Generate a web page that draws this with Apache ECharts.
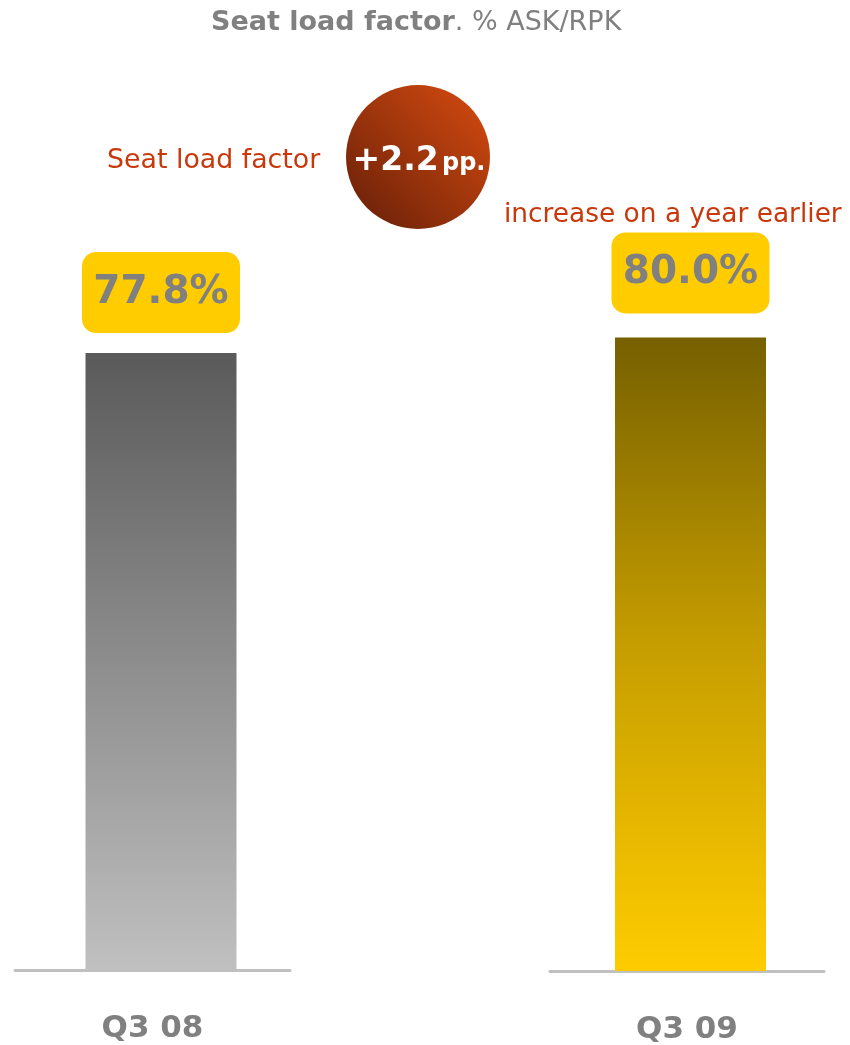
<!DOCTYPE html>
<html>
<head>
<meta charset="utf-8">
<script src="https://cdn.jsdelivr.net/npm/echarts@6/dist/echarts.min.js"></script>
<style>
  html, body { margin: 0; padding: 0; background: #fff; }
  #main { width: 850px; height: 1045px; }
</style>
</head>
<body>
<div id="main"></div>
<script>
// data
var categoriesLeft = ['Q3 08'];
var categoriesRight = ['Q3 09'];
var valuesLeft = [77.8];
var valuesRight = [80.0];
var changeLabel = '+2.2';
var changeUnit = 'pp.';

var chart = echarts.init(document.getElementById('main'));

var grayText = '#808080';
var redText = '#c8380a';

// gradient for bars (top dark -> bottom light)
function barGradient(stops) {
    return new echarts.graphic.LinearGradient(0, 0, 0, 1, stops);
}

// yellow value box
function valueLabel(dist) {
    return {
        show: true,
        position: 'top',
        distance: dist,
        formatter: function (p) { return p.value.toFixed(1) + '%'; },
        backgroundColor: '#ffcc00',
        borderRadius: 14,
        width: 158,
        height: 81,
        lineHeight: 81,
        align: 'center',
        color: grayText,
        fontFamily: 'DejaVu Sans',
        fontWeight: 'bold',
        fontSize: 39
    };
}

function catAxis(idx, data) {
    return {
        type: 'category',
        gridIndex: idx,
        data: data,
        axisLine: { lineStyle: { color: '#c0c0c0', width: 3 } },
        axisTick: { show: false },
        axisLabel: {
            margin: 43,
            color: grayText,
            fontFamily: 'DejaVu Sans',
            fontWeight: 'bold',
            fontSize: 31
        }
    };
}

function valAxis(idx) {
    return {
        type: 'value',
        gridIndex: idx,
        min: 0,
        max: 100,
        show: false,
        splitLine: { show: false }
    };
}

var option = {
    animation: false,
    backgroundColor: '#ffffff',
    title: {
        text: '{b|Seat load factor}{n|. % ASK/RPK}',
        left: 211,
        top: 9,
        padding: 0,
        textStyle: {
            rich: {
                b: { fontFamily: 'DejaVu Sans', fontWeight: 'bold', fontSize: 27, color: grayText },
                n: { fontFamily: 'DejaVu Sans', fontWeight: 'normal', fontSize: 27, color: grayText }
            }
        }
    },
    grid: [
        { left: 15, width: 275, top: 177, height: 793 },
        { left: 550, width: 274, top: 179, height: 793 }
    ],
    xAxis: [catAxis(0, categoriesLeft), catAxis(1, categoriesRight)],
    yAxis: [valAxis(0), valAxis(1)],
    series: [
        // spacer so the bar sits a little right of the axis centre
        { type: 'bar', xAxisIndex: 0, yAxisIndex: 0, barWidth: 17, barGap: 0, data: ['-'], silent: true },
        {
            type: 'bar', xAxisIndex: 0, yAxisIndex: 0, barWidth: 151, barGap: 0,
            data: valuesLeft,
            itemStyle: {
                color: barGradient([
                    { offset: 0, color: '#5a5a5a' },
                    { offset: 1, color: '#c0c0c0' }
                ])
            },
            label: valueLabel(20)
        },
        { type: 'bar', xAxisIndex: 1, yAxisIndex: 1, barWidth: 7, barGap: 0, data: ['-'], silent: true },
        {
            type: 'bar', xAxisIndex: 1, yAxisIndex: 1, barWidth: 151, barGap: 0,
            data: valuesRight,
            itemStyle: {
                color: barGradient([
                    { offset: 0, color: '#766000' },
                    { offset: 0.47, color: '#c49c00' },
                    { offset: 1, color: '#ffcc00' }
                ])
            },
            label: valueLabel(24)
        }
    ],
    graphic: [
        {
            type: 'text',
            left: 107,
            top: 148,
            style: {
                text: 'Seat load factor',
                fill: redText,
                font: '26.8px "DejaVu Sans"'
            }
        },
        {
            type: 'circle',
            shape: { cx: 418, cy: 157, r: 72 },
            style: {
                fill: new echarts.graphic.LinearGradient(1, 0, 0, 1, [
                    { offset: 0, color: '#d84c10' },
                    { offset: 1, color: '#641e08' }
                ])
            }
        },
        {
            type: 'text',
            x: 419,
            y: 160,
            style: {
                text: '{a|' + changeLabel + '} {b|' + changeUnit + '}',
                align: 'center',
                verticalAlign: 'middle',
                rich: {
                    a: { fontFamily: 'DejaVu Sans', fontWeight: 'bold', fontSize: 33, fill: '#ffffff',
                         lineHeight: 36, verticalAlign: 'bottom' },
                    b: { fontFamily: 'DejaVu Sans', fontWeight: 'bold', fontSize: 24, fill: '#ffffff',
                         lineHeight: 36, verticalAlign: 'bottom', padding: [0, 0, 2, 0] }
                }
            }
        },
        {
            type: 'text',
            left: 504,
            top: 202,
            style: {
                text: 'increase on a year earlier',
                fill: redText,
                font: '26.4px "DejaVu Sans"'
            }
        }
    ]
};

chart.setOption(option);
</script>
</body>
</html>
